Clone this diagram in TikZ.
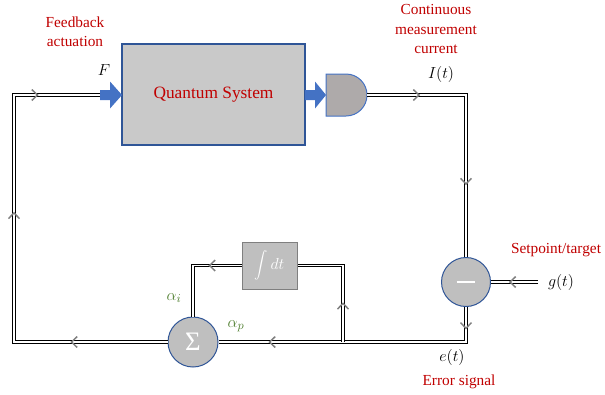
\documentclass[tikz,border=0pt]{standalone}
\usepackage{fontspec}
\setmainfont{Liberation Serif}
\usetikzlibrary{decorations.markings}
\definecolor{qred}{HTML}{C00000}
\definecolor{qgreen}{HTML}{548235}
\definecolor{qblue}{HTML}{4472C4}
\definecolor{qdblue}{HTML}{2F5597}
\definecolor{qgray}{HTML}{C9C9C9}
\definecolor{cgray}{HTML}{BFBFBF}
\definecolor{dgray}{HTML}{AEAAAA}
\definecolor{mgray}{HTML}{7F7F7F}
\tikzset{
  wire/.style={draw=black, double=white, line width=0.9pt, double distance=0.9pt, line join=miter},
  chev/.style={postaction={decorate, decoration={markings, mark=at position #1 with {\draw[mgray, line width=1.1pt, line join=miter] (-4.3pt,4.1pt) -- (0pt,0pt) -- (-4.3pt,-4.1pt);}}}},
  lbl/.style={text=qred, font=\fontsize{11.5}{14.6}\selectfont, align=center, inner sep=0pt},
  mlbl/.style={font=\fontsize{13}{15}\selectfont, inner sep=0pt},
  glbl/.style={mlbl, text=qgreen},
  qsys/.style={rectangle, fill=qgray, draw=qdblue, line width=1.5pt, minimum width=137.25pt, minimum height=75.75pt, text=qred, font=\fontsize{13}{15}\selectfont},
  sumnode/.style={circle, fill=cgray, draw=qdblue, line width=0.75pt, minimum size=#1, inner sep=0pt, text=white},
  intbox/.style={rectangle, fill=cgray, draw=mgray, line width=0.75pt, minimum width=41.25pt, minimum height=35.25pt, inner sep=0pt, text=white, font=\fontsize{12.5}{14}\selectfont},
  bluearrow/.style={fill=qblue},
}
\begin{document}
\begin{tikzpicture}[x=0.75pt, y=-0.75pt]
\useasboundingbox (0,0) rectangle (605,394);

% main blocks
\node[qsys] (qs) at (213.5,94.5) {Quantum System};
\fill[bluearrow] (100,90) -- (110,90) -- (110,81.5) -- (122,95) -- (110,108.5) -- (110,100) -- (100,100) -- cycle;
\coordinate (fa) at (100,95);
\fill[bluearrow] (305,90) -- (315,90) -- (315,81.5) -- (326,95) -- (315,108.5) -- (315,100) -- (305,100) -- cycle;
\filldraw[fill=dgray, draw=qblue, line width=0.75pt] (326,74) -- (346,74) arc[start angle=90, end angle=-90, radius=15.75pt] -- (326,116) -- cycle;
\coordinate (det) at (367,95);

\node[sumnode=36.75pt] (minus) at (466,282) {\rule{14pt}{1.7pt}};
\node[sumnode=37.5pt, font=\fontsize{20}{22}\selectfont] (sum) at (193,342) {Σ};
\node[intbox] (int) at (269.5,265.5) {$\displaystyle\int dt$};

% corner coordinates
\coordinate (c1) at (14,342);
\coordinate (c2) at (14,95);
\coordinate (c3) at (466,95);
\coordinate (c4) at (466,342);
\coordinate (J) at (343,342);
\coordinate (c5) at (343,265.5);
\coordinate (c6) at (193,265.5);
\coordinate (gp) at (538,282);

% connectors
\draw[wire, chev=72pt, chev=212pt, chev=318pt] (sum.west) -- (c1) -- (c2) -- (fa);
\draw[wire, chev=39pt, chev=141pt] (det) -- (c3) -- (minus.north);
\draw[wire, chev=21pt] (gp) -- (minus.east);
\draw[wire, chev=16pt, chev=173.6pt] (minus.south) -- (c4) -- (sum.east);
\draw[wire, chev=29pt] (J) -- (c5) -- (int.east);
\draw[wire, chev=24pt] (int.west) -- (c6) -- (sum.north);

% labels
\node[lbl] (fb) at (75,32) {Feedback\\actuation};
\node[mlbl] (F) at (104,70) {$F$};
\node[lbl] (cm) at (436,29) {Continuous\\measurement\\current};
\node[mlbl] (It) at (441,74) {$I(t)$};
\node[lbl] (sp) at (556,250) {Setpoint/target};
\node[mlbl] (gt) at (561,282) {$g(t)$};
\node[mlbl] (et) at (452,357) {$e(t)$};
\node[lbl] (es) at (459,382) {Error signal};
\node[glbl] (ai) at (174,298) {$\alpha_i$};
\node[glbl] (ap) at (236,326) {$\alpha_p$};
\end{tikzpicture}
\end{document}
